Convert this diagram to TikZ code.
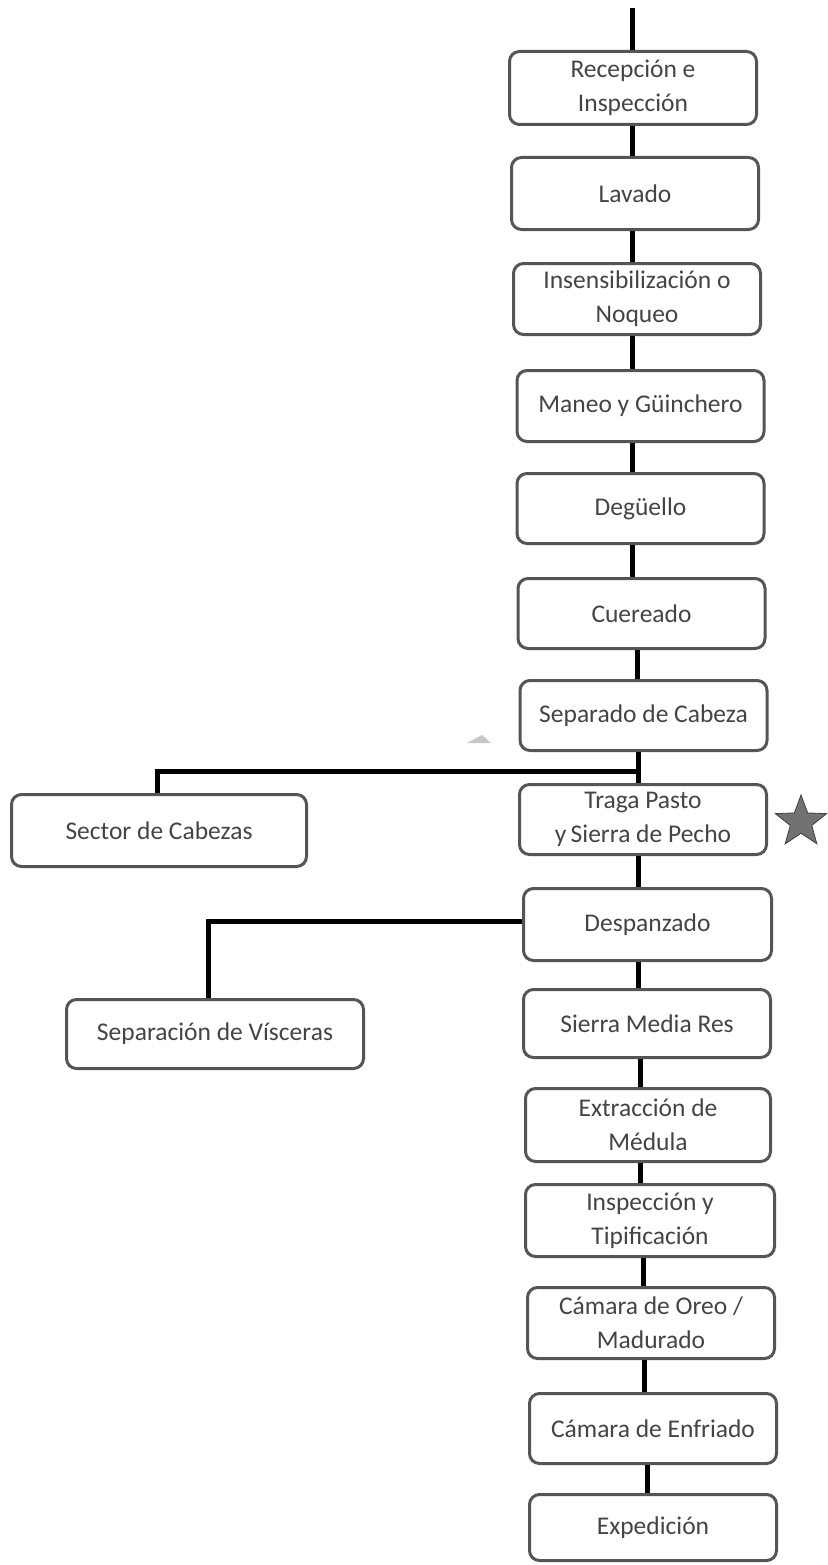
\documentclass[tikz,border=0pt]{standalone}
\usepackage{fontspec}
\setmainfont{Carlito}
\usetikzlibrary{shapes.geometric}
\definecolor{boxline}{HTML}{555555}
\definecolor{boxtext}{HTML}{444444}
\definecolor{starfill}{HTML}{727272}
\begin{document}
\begin{tikzpicture}[x=1pt,y=-1pt,
  stepbox/.style={draw=boxline, line width=3pt, rounded corners=10pt, fill=white,
    align=center, text=boxtext, inner sep=0pt,
    font=\fontsize{25.5}{34}\selectfont, minimum width=247pt, minimum height=71pt},
  link/.style={line width=5pt, black}]
\useasboundingbox (0,0) rectangle (827,1565);

% main line of boxes
\node[stepbox, minimum height=73pt] (rec) at (633,88) {Recepción e\\Inspección};
\node[stepbox, minimum height=72pt] (lav) at (635,193.5) {Lavado};
\node[stepbox] (ins) at (637,299)   {Insensibilización o\\Noqueo};
\node[stepbox] (man) at (640.5,406) {Maneo y Güinchero};
\node[stepbox, minimum height=70pt] (deg) at (640.5,508.5) {Degüello};
\node[stepbox, minimum height=70pt] (cue) at (641.5,613.5) {Cuereado};
\node[stepbox, minimum height=70pt] (sep) at (643.5,715.5) {Separado de Cabeza};
\node[stepbox, minimum height=70pt] (tra) at (643,819.5) {Traga Pasto\\y\,Sierra de Pecho};
\node[stepbox, minimum width=248pt, minimum height=72pt] (des) at (647.5,924.5) {Despanzado};
\node[stepbox, minimum height=68pt] (sie) at (647,1023.5) {Sierra Media Res};
\node[stepbox, minimum width=245pt, minimum height=73pt] (ext) at (648,1125) {Extracción de\\Médula};
\node[stepbox, minimum width=249pt, minimum height=72pt] (ist) at (650,1220.5) {Inspección y\\Tipificación};
\node[stepbox] (cor) at (651,1323) {Cámara de Oreo /\\Madurado};
\node[stepbox, minimum height=70pt] (cen) at (653,1428.5) {Cámara de Enfriado};
\node[stepbox, minimum height=66pt] (exp) at (653,1527.5) {Expedición};

% side boxes
\node[stepbox, minimum width=295pt, minimum height=72pt] (sec) at (159,830.5) {Sector de Cabezas};
\node[stepbox, minimum width=297pt, minimum height=69pt] (vis) at (215,1034) {Separación de Vísceras};

% connectors along the main line
\coordinate (top) at (632,8);
\draw[link] (top) -- (top |- rec.north);
\draw[link] ([xshift=-1pt]rec.south) -- ([xshift=-1pt]rec.south |- lav.north);
\draw[link] ([xshift=-3pt]lav.south) -- ([xshift=-3pt]lav.south |- ins.north);
\draw[link] ([xshift=-5pt]ins.south) -- ([xshift=-5pt]ins.south |- man.north);
\draw[link] ([xshift=-8.5pt]man.south) -- ([xshift=-8.5pt]man.south |- deg.north);
\draw[link] ([xshift=-8.5pt]deg.south) -- ([xshift=-8.5pt]deg.south |- cue.north);
\draw[link] ([xshift=-4.5pt]cue.south) -- ([xshift=-4.5pt]cue.south |- sep.north);
\draw[link] ([xshift=-5.5pt]sep.south) -- ([xshift=-5.5pt]sep.south |- tra.north);
\draw[link] ([xshift=-5pt]tra.south) -- ([xshift=-5pt]tra.south |- des.north);
\draw[link] ([xshift=-9.5pt]des.south) -- ([xshift=-9.5pt]des.south |- sie.north);
\draw[link] ([xshift=-7pt]sie.south) -- ([xshift=-7pt]sie.south |- ext.north);
\draw[link] ([xshift=-8pt]ext.south) -- ([xshift=-8pt]ext.south |- ist.north);
\draw[link] ([xshift=-7pt]ist.south) -- ([xshift=-7pt]ist.south |- cor.north);
\draw[link] ([xshift=-7pt]cor.south) -- ([xshift=-7pt]cor.south |- cen.north);
\draw[link] ([xshift=-6pt]cen.south) -- ([xshift=-6pt]cen.south |- exp.north);

% branches to the side boxes
\coordinate (j1) at (640.5,771);
\draw[link] (j1) -| ([xshift=-2pt]sec.north);
\draw[link] ([yshift=3.5pt]des.west) -| ([xshift=-7pt]vis.north);

% marker star and small handle
\node[star, star points=5, star point ratio=2.4, minimum size=54pt, inner sep=0pt,
  fill=starfill, draw=black!75, line width=0.8pt] (mark) at (801,822) {};
\fill[black!22] (467,743) -- (491,743) -- (482,735) -- cycle;
\end{tikzpicture}
\end{document}
